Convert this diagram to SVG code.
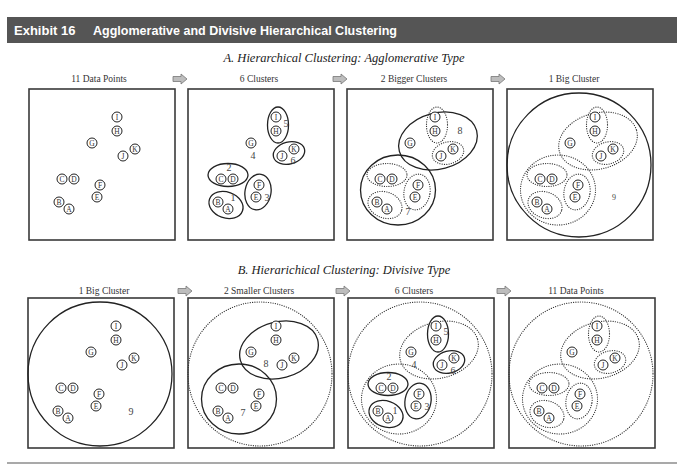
<svg xmlns="http://www.w3.org/2000/svg" xmlns:xlink="http://www.w3.org/1999/xlink" width="688" height="474" viewBox="0 0 688 474">
<style>
.box{fill:none;stroke:#3a3a3a;stroke-width:1.6}
.sol{fill:none;stroke:#222;stroke-width:1.3}
.dot{fill:none;stroke:#333;stroke-width:1.2;stroke-dasharray:0.1 2.2;stroke-linecap:round}
.pt{fill:#fff;stroke:#222;stroke-width:1}
.pl{font-family:"Liberation Serif",serif;font-size:7.5px;text-anchor:middle;fill:#333}
.num{font-family:"Liberation Serif",serif;font-size:10px;fill:#444;text-anchor:middle}
.lab{font-family:"Liberation Serif",serif;font-size:9.5px;text-anchor:middle;fill:#333}
.sub{font-family:"Liberation Serif",serif;font-style:italic;font-size:12.5px;text-anchor:middle;fill:#222}
.hd{font-family:"Liberation Sans",Arial,sans-serif;font-weight:bold;font-size:13px;fill:#fff}
.arr{fill:#bdbdbd;stroke:#777;stroke-width:0.8}
</style>
<defs>
<path id="arrow" d="M-7,-2.5 H1 V-5 L7,0 L1,5 V2.5 H-7 Z"/>
<g id="pts">
<circle class="pt" cx="88" cy="28" r="5"/><text class="pl" x="88" y="30.6">I</text>
<circle class="pt" cx="88" cy="42" r="5"/><text class="pl" x="88" y="44.6">H</text>
<circle class="pt" cx="63" cy="54" r="5"/><text class="pl" x="63" y="56.6">G</text>
<circle class="pt" cx="106" cy="60" r="5"/><text class="pl" x="106" y="62.6">K</text>
<circle class="pt" cx="94" cy="67" r="5"/><text class="pl" x="94" y="69.6">J</text>
<circle class="pt" cx="33" cy="90" r="5"/><text class="pl" x="33" y="92.6">C</text>
<circle class="pt" cx="45" cy="90" r="5"/><text class="pl" x="45" y="92.6">D</text>
<circle class="pt" cx="71" cy="96" r="5"/><text class="pl" x="71" y="98.6">F</text>
<circle class="pt" cx="68" cy="108" r="5"/><text class="pl" x="68" y="110.6">E</text>
<circle class="pt" cx="30" cy="113" r="5"/><text class="pl" x="30" y="115.6">B</text>
<circle class="pt" cx="40" cy="120" r="5"/><text class="pl" x="40" y="122.6">A</text>
</g>
<circle id="c9" cx="72" cy="76" r="72"/>
<ellipse id="c8" cx="0" cy="0" rx="40" ry="28" transform="translate(91,52) rotate(-15)"/>
<ellipse id="c7" cx="51" cy="101" rx="37.5" ry="35"/>
<ellipse id="c5" cx="90" cy="36" rx="10.5" ry="18"/>
<ellipse id="c6" cx="0" cy="0" rx="16" ry="11" transform="translate(101,64) rotate(-15)"/>
<ellipse id="c2" cx="40" cy="86" rx="20" ry="11.5"/>
<ellipse id="c3" cx="0" cy="0" rx="13" ry="18" transform="translate(70,103) rotate(10)"/>
<ellipse id="c1" cx="0" cy="0" rx="17.5" ry="13" transform="translate(38,116) rotate(20)"/>
</defs>

<rect width="688" height="474" fill="#fff"/>

<g id="header">
<rect x="7" y="17" width="670" height="26" fill="#555"/>
<text class="hd" x="14" y="35">Exhibit 16</text>
<text class="hd" x="93" y="35" textLength="304" lengthAdjust="spacingAndGlyphs">Agglomerative and Divisive Hierarchical Clustering</text>
</g>

<g id="titles">
<text class="sub" x="344" y="62">A. Hierarchical Clustering: Agglomerative Type</text>
<text class="lab" x="99" y="82">11 Data Points</text>
<text class="lab" x="259" y="82">6 Clusters</text>
<text class="lab" x="414" y="82">2 Bigger Clusters</text>
<text class="lab" x="574" y="82">1 Big Cluster</text>
<text class="sub" x="344" y="274">B. Hierarichical Clustering: Divisive Type</text>
<text class="lab" x="104" y="294">1 Big Cluster</text>
<text class="lab" x="259" y="294">2 Smaller Clusters</text>
<text class="lab" x="414" y="294">6 Clusters</text>
<text class="lab" x="576" y="294">11 Data Points</text>
</g>

<g id="connectors">
<use href="#arrow" class="arr" x="180" y="79"/>
<use href="#arrow" class="arr" x="340" y="79"/>
<use href="#arrow" class="arr" x="498" y="79"/>
<use href="#arrow" class="arr" x="185" y="291"/>
<use href="#arrow" class="arr" x="343" y="291"/>
<use href="#arrow" class="arr" x="504" y="291"/>
</g>

<g id="panelA1" transform="translate(29,89)">
<rect class="box" width="146" height="151"/>
<use href="#pts"/>
</g>

<g id="panelA2" transform="translate(188,89)">
<rect class="box" width="146" height="151"/>
<use href="#c5" class="sol"/><use href="#c6" class="sol"/><use href="#c2" class="sol"/><use href="#c3" class="sol"/><use href="#c1" class="sol"/>
<use href="#pts"/>
<text class="num" x="98" y="38">5</text>
<text class="num" x="105" y="75">6</text>
<text class="num" x="65" y="70">4</text>
<text class="num" x="41" y="82">2</text>
<text class="num" x="79" y="112">3</text>
<text class="num" x="45" y="112">1</text>
</g>

<g id="panelA3" transform="translate(347,89)">
<rect class="box" width="146" height="151"/>
<use href="#c8" class="sol"/><use href="#c7" class="sol"/>
<use href="#c5" class="dot"/><use href="#c6" class="dot"/><use href="#c2" class="dot"/><use href="#c3" class="dot"/><use href="#c1" class="dot"/>
<use href="#pts"/>
<text class="num" x="113" y="45">8</text>
<text class="num" x="61" y="126">7</text>
</g>

<g id="panelA4" transform="translate(507,89)">
<rect class="box" width="146" height="151"/>
<use href="#c9" class="sol"/>
<use href="#c8" class="dot"/><use href="#c7" class="dot"/>
<use href="#c5" class="dot"/><use href="#c6" class="dot"/><use href="#c2" class="dot"/><use href="#c3" class="dot"/><use href="#c1" class="dot"/>
<use href="#pts"/>
<text class="num" x="107" y="111" style="font-size:8px">9</text>
</g>

<g id="panelB1" transform="translate(28,298)">
<rect class="box" width="146" height="150"/>
<use href="#c9" class="sol"/>
<use href="#pts"/>
<text class="num" x="103" y="117">9</text>
</g>

<g id="panelB2" transform="translate(188,298)">
<rect class="box" width="146" height="150"/>
<use href="#c9" class="dot"/>
<use href="#c8" class="sol"/><use href="#c7" class="sol"/>
<use href="#pts"/>
<text class="num" x="78" y="69">8</text>
<text class="num" x="55" y="118">7</text>
</g>

<g id="panelB3" transform="translate(348,298)">
<rect class="box" width="146" height="150"/>
<use href="#c9" class="dot"/>
<use href="#c8" class="dot"/><use href="#c7" class="dot"/>
<use href="#c5" class="sol"/><use href="#c6" class="sol"/><use href="#c2" class="sol"/><use href="#c3" class="sol"/><use href="#c1" class="sol"/>
<use href="#pts"/>
<text class="num" x="98" y="37">5</text>
<text class="num" x="105" y="76">6</text>
<text class="num" x="66" y="70">4</text>
<text class="num" x="41" y="82">2</text>
<text class="num" x="79" y="112">3</text>
<text class="num" x="47" y="116">1</text>
</g>

<g id="panelB4" transform="translate(509,298)">
<rect class="box" width="146" height="150"/>
<use href="#c9" class="dot"/>
<use href="#c8" class="dot"/><use href="#c7" class="dot"/>
<use href="#c5" class="dot"/><use href="#c6" class="dot"/><use href="#c2" class="dot"/><use href="#c3" class="dot"/><use href="#c1" class="dot"/>
<use href="#pts"/>
</g>

<line x1="7" y1="463" x2="677" y2="463" stroke="#555" stroke-width="1.2"/>
</svg>
